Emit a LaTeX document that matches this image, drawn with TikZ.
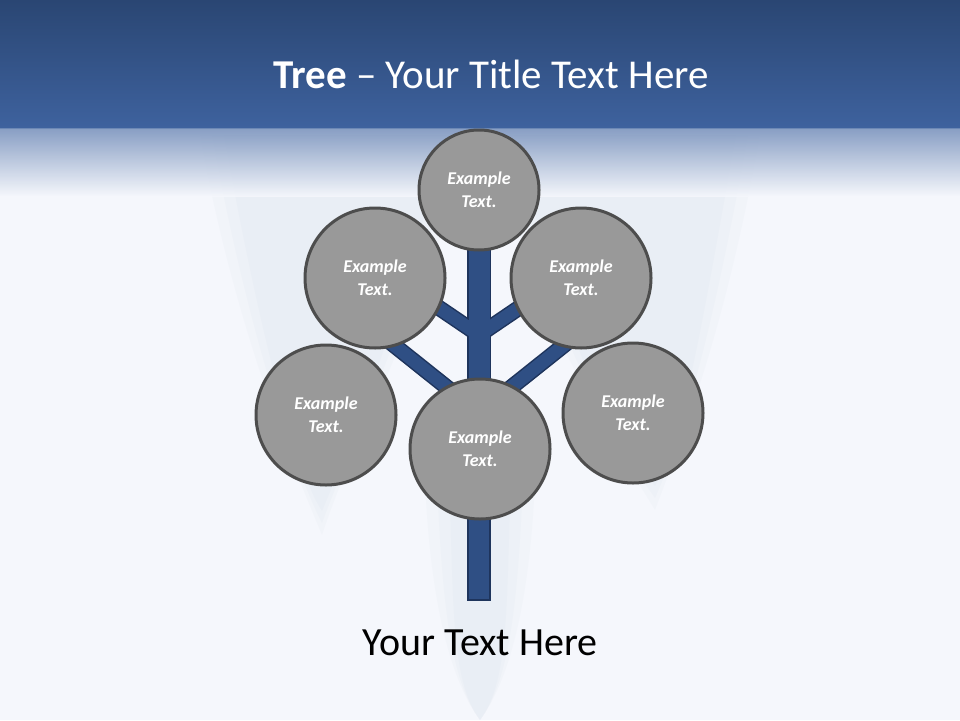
\documentclass[tikz,border=0pt]{standalone}
\usepackage{fontspec}
\setmainfont{Carlito}
\usetikzlibrary{backgrounds}
\definecolor{bgpaper}{RGB}{245,247,252}
\definecolor{headtop}{RGB}{42,70,115}
\definecolor{headlow}{RGB}{62,98,158}
\definecolor{barkfill}{RGB}{47,79,132}
\definecolor{barkline}{RGB}{30,52,92}
\definecolor{leaffill}{RGB}{153,153,153}
\definecolor{leafline}{RGB}{77,77,77}
\definecolor{mist}{RGB}{150,165,195}
\pgfdeclarelayer{bark}
\pgfsetlayers{background,bark,main}

\begin{document}
\begin{tikzpicture}[x=1pt, y=-1pt, leaf/.style={circle, draw=leafline, line width=3pt, fill=leaffill, text=white, align=center, font=\fontsize{18}{23}\selectfont\bfseries\itshape, inner sep=0pt}, branch/.style={draw=barkline, line width=1.5pt, double=barkfill, double distance=13pt}, stem/.style={draw=barkline, line width=1.5pt, fill=barkfill}, haze/.style={fill=mist, opacity=0.035}]
	\begin{pgfonlayer}{background}
		\fill[bgpaper] (0,0) rectangle (960,720);
		\foreach \s in {0,12,24} {
			\fill[haze] (200+\s,135) .. controls (235+\s,330) and (295,470) .. (322,535-\s) .. controls (360,420) and (420-\s,330) .. (470-\s,135) -- cycle;
			\fill[haze] (760-\s,135) .. controls (725-\s,330) and (685,430) .. (655,510-\s) .. controls (600,420) and (540+\s,330) .. (490+\s,135) -- cycle;
			\fill[haze] (425+\s,480) .. controls (430+\s,600) and (450,680) .. (480,720) .. controls (510,680) and (530-\s,600) .. (535-\s,480) -- cycle;
		}
		\shade[top color=headtop, bottom color=headlow] (0,0) rectangle (960,128);
		\shade[top color=headlow!70!bgpaper, bottom color=bgpaper, opacity=0.85] (0,128) rectangle (960,196);
	\end{pgfonlayer}
	\node[font=\fontsize{41}{46}\selectfont, text=white, anchor=base] (title) at (491,88) {\textbf{Tree} – Your Title Text Here};
	\node[leaf, minimum size=120pt] (top) at (479,190) {Example\\Text.};
	\node[leaf, minimum size=140pt] (ul) at (375,278) {Example\\Text.};
	\node[leaf, minimum size=140pt] (ur) at (581,278) {Example\\Text.};
	\node[leaf, minimum size=140pt] (ll) at (326,415) {Example\\Text.};
	\node[leaf, minimum size=140pt] (lr) at (633,413) {Example\\Text.};
	\node[leaf, minimum size=140pt] (mid) at (480,449) {Example\\Text.};
	\node[font=\fontsize{40}{46}\selectfont, anchor=base] (caption) at (480,655) {Your Text Here};
	\coordinate (root) at (479,600);
	\coordinate (fork) at (479,335);
	\coordinate (crown) at (479,413);
	\coordinate (ultip) at (420,295);
	\coordinate (urtip) at (538,295);
	\coordinate (ulbase) at (385,338);
	\coordinate (urbase) at (573,338);
	\begin{pgfonlayer}{bark}
		\draw[stem] ([xshift=-11pt]top.center) rectangle ([xshift=11pt]root);
		\draw[branch] (fork) -- (ultip);
		\draw[branch] (fork) -- (urtip);
		\draw[branch] (crown) -- (ulbase);
		\draw[branch] (crown) -- (urbase);
		\fill[barkfill] ([xshift=-10.25pt]top.center) rectangle ([xshift=10.25pt]mid.center);
	\end{pgfonlayer}
\end{tikzpicture}
\end{document}
